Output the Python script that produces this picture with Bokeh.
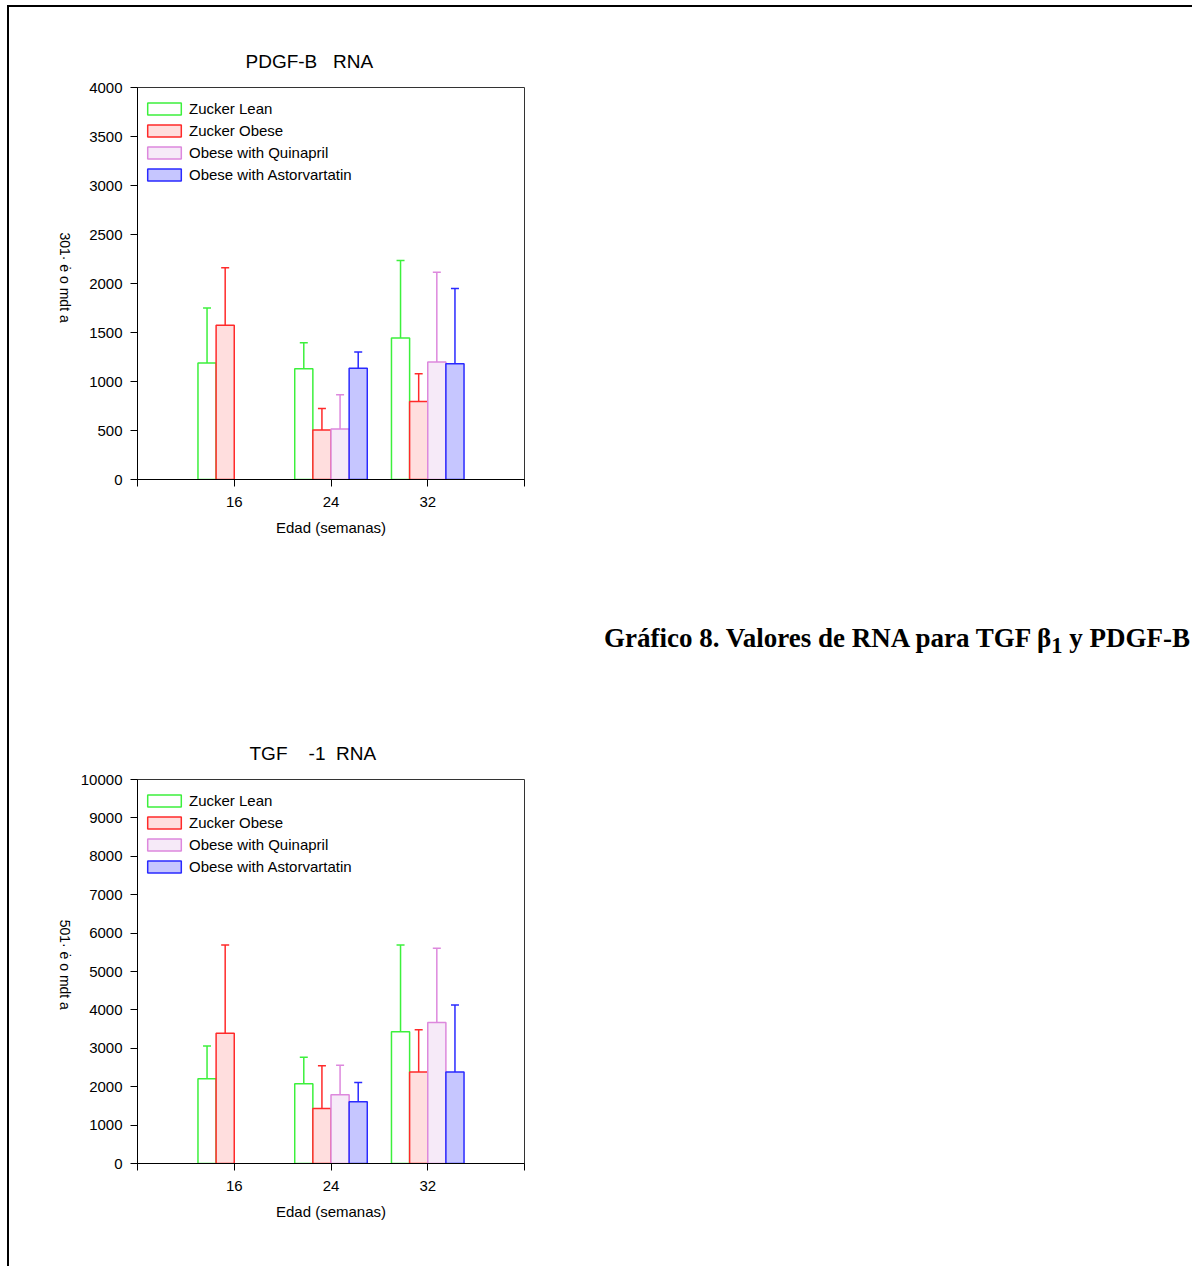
import math
import numpy as np
from bokeh.plotting import figure
from bokeh.models import (Range1d, FixedTicker, Legend, LegendItem, Whisker,
                          TeeHead, ColumnDataSource, Div, LinearAxis)
from bokeh.layouts import column
from bokeh.transform import dodge
from bokeh.embed import file_html
from bokeh.resources import INLINE

NAN = float("nan")

# ---------------- data ----------------
ages = [16, 24, 32]
series_names = ["Zucker Lean", "Zucker Obese", "Obese with Quinapril", "Obese with Astorvartatin"]

pdgf_lean = [1190, 1130, 1445]
pdgf_lean_sd = [560, 265, 790]
pdgf_obese = [1575, 505, 795]
pdgf_obese_sd = [585, 220, 285]
pdgf_quin = [NAN, 515, 1200]
pdgf_quin_sd = [NAN, 350, 915]
pdgf_astor = [NAN, 1135, 1180]
pdgf_astor_sd = [NAN, 165, 770]

tgf_lean = [2210, 2075, 3430]
tgf_lean_sd = [850, 695, 2260]
tgf_obese = [3390, 1430, 2385]
tgf_obese_sd = [2300, 1115, 1095]
tgf_quin = [NAN, 1790, 3670]
tgf_quin_sd = [NAN, 770, 1935]
tgf_astor = [NAN, 1605, 2385]
tgf_astor_sd = [NAN, 505, 1745]

x_ticks = [8, 16, 24, 32, 40]
pdgf_yticks = list(range(0, 4001, 500))
tgf_yticks = list(range(0, 10001, 1000))

NB = "\u00a0"
title_pdgf = "PDGF-B" + NB * 3 + "RNA"
title_tgf = "TGF" + NB * 4 + "-1" + NB * 2 + "RNA"
x_label = "Edad (semanas)"
ylab_pdgf = "301\u00b7 \u0117 o mdt a"
ylab_tgf = "501\u00b7 \u0117 o mdt a"
caption_html = "Gr\u00e1fico 8. Valores de RNA para TGF \u03b2<sub>1</sub> y PDGF-B"

line_colors = ["#3cf03c", "#ff2a2a", "#dd88dd", "#2a2aff"]
fill_colors = ["#ffffff", "#ffdede", "#f6eaf8", "#c6c6ff"]
offsets = [-2.25, -0.75, 0.75, 2.25]
BAR_W = 1.5
FONT = "Liberation Sans"
PAGE_W = 1183
LEFT = 128
FRAME_W = 387


def make_chart(title, means, sds, yticks, ylab, ylab_at, top, frame_h, bottom,
               title_offset, ylab_standoff):
    p = figure(width=PAGE_W, height=top + frame_h + bottom,
               x_range=Range1d(8, 40), y_range=Range1d(0, yticks[-1]),
               output_backend="svg", toolbar_location=None,
               min_border_left=LEFT, min_border_right=PAGE_W - LEFT - FRAME_W,
               min_border_top=top, min_border_bottom=bottom)
    p.xgrid.grid_line_color = None
    p.ygrid.grid_line_color = None
    p.outline_line_color = "#333333"
    p.outline_line_width = 1
    p.background_fill_color = "white"
    p.border_fill_color = "white"

    p.title.text = title
    p.title.text_font = FONT
    p.title.text_font_size = "19px"
    p.title.text_font_style = "normal"
    p.title.text_color = "black"
    p.title.align = "left"
    p.title.offset = title_offset
    p.title.standoff = 32

    xa = p.xaxis[0]
    xa.ticker = FixedTicker(ticks=x_ticks)
    xa.major_label_overrides = {8: "", 40: ""}
    xa.major_tick_in = 0
    xa.major_tick_out = 7
    xa.minor_tick_line_color = None
    xa.axis_line_color = "black"
    xa.major_tick_line_color = "black"
    xa.major_label_text_font = FONT
    xa.major_label_text_font_size = "15px"
    xa.major_label_text_color = "black"
    xa.major_label_standoff = 10
    xa.axis_label = x_label
    xa.axis_label_text_font = FONT
    xa.axis_label_text_font_size = "15px"
    xa.axis_label_text_font_style = "normal"
    xa.axis_label_text_color = "black"
    xa.axis_label_standoff = 9

    ya = p.yaxis[0]
    ya.ticker = FixedTicker(ticks=yticks)
    ya.major_tick_in = 0
    ya.major_tick_out = 7
    ya.minor_tick_line_color = None
    ya.axis_line_color = "black"
    ya.major_tick_line_color = "black"
    ya.major_label_text_font = FONT
    ya.major_label_text_font_size = "15px"
    ya.major_label_text_color = "black"
    ya.major_label_standoff = 8

    # garbled vertical axis title, drawn as the single label of an extra bare axis
    lab_ax = LinearAxis(ticker=FixedTicker(ticks=[ylab_at]),
                        major_label_overrides={ylab_at: ylab},
                        major_label_orientation=-math.pi / 2,
                        axis_line_color=None, major_tick_line_color=None,
                        minor_tick_line_color=None, major_tick_in=0, major_tick_out=0,
                        major_label_text_font=FONT, major_label_text_font_size="14px",
                        major_label_text_color="black",
                        major_label_standoff=ylab_standoff)
    p.add_layout(lab_ax, "left")

    data = {"age": ages}
    for i in range(4):
        m = np.array(means[i], dtype=float)
        s = np.array(sds[i], dtype=float)
        data[f"m{i}"] = m
        data[f"u{i}"] = m + s
    src = ColumnDataSource(data)

    items = []
    for i in range(4):
        xs = dodge("age", offsets[i])
        w = Whisker(source=src, base=xs, lower=f"m{i}", upper=f"u{i}",
                    dimension="height", line_color=line_colors[i], line_width=1.5,
                    lower_head=None,
                    upper_head=TeeHead(size=8, line_color=line_colors[i], line_width=1.5),
                    level="glyph")
        p.add_layout(w)
        r = p.vbar(x=xs, top=f"m{i}", bottom=0, width=BAR_W, source=src,
                   fill_color=fill_colors[i], line_color=line_colors[i], line_width=1.5)
        items.append(LegendItem(label=series_names[i], renderers=[r]))

    leg_h = 2 * 2 + 4 * 17 + 3 * 5
    leg = Legend(items=items, location=(6, frame_h - 9 - leg_h), margin=0, padding=2,
                 glyph_width=42, glyph_height=15, label_height=12, spacing=5,
                 label_standoff=4, label_text_font=FONT, label_text_font_size="15px",
                 label_text_color="black", border_line_color=None,
                 background_fill_alpha=0)
    p.add_layout(leg)
    return p


pA = make_chart(title_pdgf, [pdgf_lean, pdgf_obese, pdgf_quin, pdgf_astor],
                [pdgf_lean_sd, pdgf_obese_sd, pdgf_quin_sd, pdgf_astor_sd],
                pdgf_yticks, ylab_pdgf, 1600, top=80, frame_h=392, bottom=121,
                title_offset=108, ylab_standoff=22)

caption = Div(
    text=('<div style="position:absolute; left:595px; top:22px; white-space:nowrap; '
          'font-family:\'Liberation Serif\'; font-weight:bold; font-size:27px; '
          'line-height:32px; color:black;">' + caption_html + '</div>'),
    width=PAGE_W, height=100, margin=0, styles={"position": "relative"})

pB = make_chart(title_tgf, [tgf_lean, tgf_obese, tgf_quin, tgf_astor],
                [tgf_lean_sd, tgf_obese_sd, tgf_quin_sd, tgf_astor_sd],
                tgf_yticks, ylab_tgf, 4000, top=79, frame_h=384, bottom=103,
                title_offset=112, ylab_standoff=13)

layout = column(pA, caption, pB, spacing=0,
                styles={"border-top": "2px solid black", "border-left": "2px solid black",
                        "margin-top": "5px", "margin-left": "7px"})

open("out.html", "w").write(file_html(layout, INLINE))
